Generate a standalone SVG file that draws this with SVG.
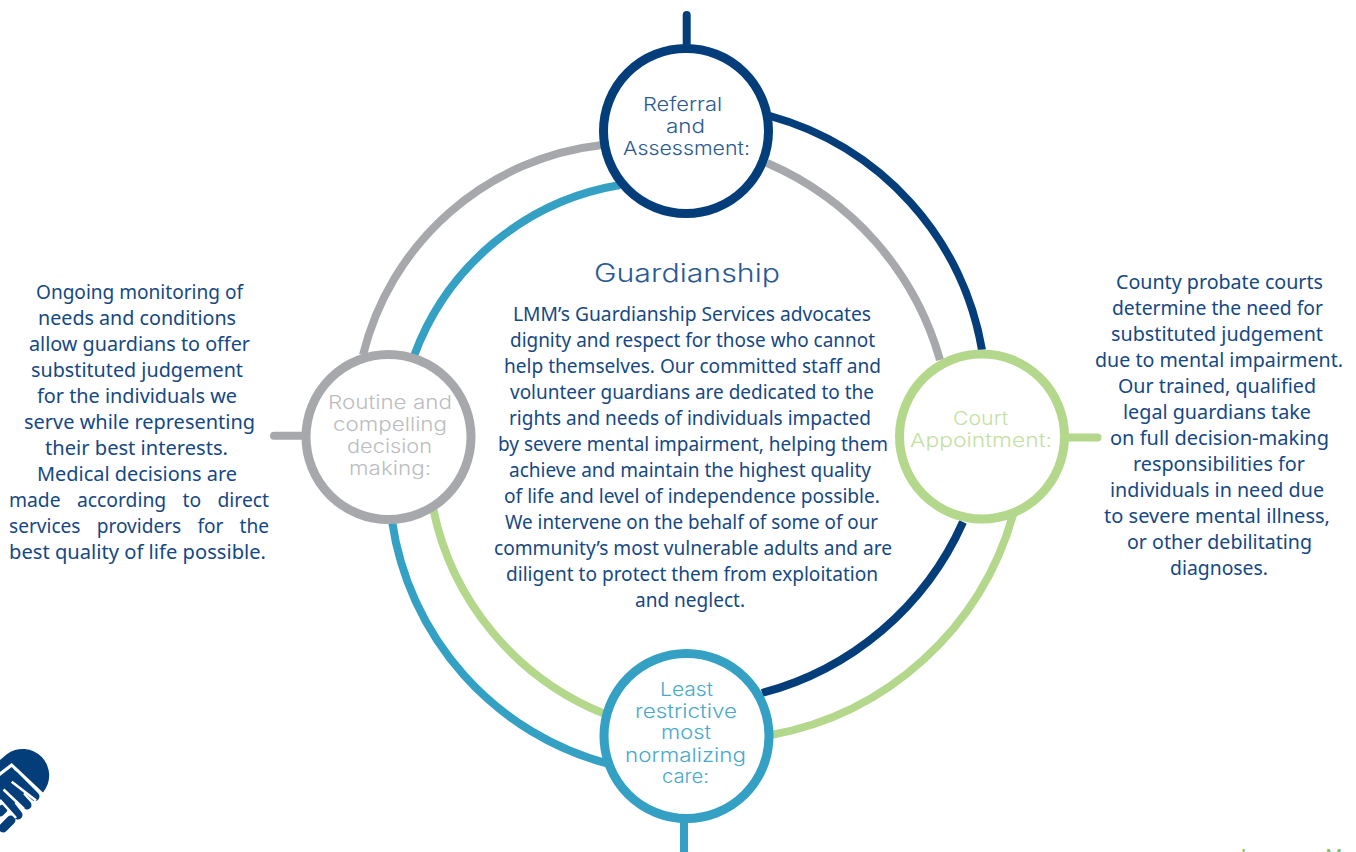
<svg xmlns="http://www.w3.org/2000/svg" width="1356" height="852" viewBox="0 0 1356 852">
<style>
.c{fill:none;stroke-width:8}
.stub{stroke-linecap:round}
.ring{fill:#fff;stroke-width:9}
.navy{stroke:#033e7b}.teal{stroke:#33a0c4}.grey{stroke:#a7a8ac}.green{stroke:#b3d88c}
.b{font-family:"Noto Sans","Open Sans",sans-serif;font-size:20.5px;fill:#154884}
.l{font-family:Inter,"Open Sans",sans-serif;font-size:19px;font-weight:300}
.just{word-spacing:12px}
.logo{fill:#033e7b}
.slit{stroke:#fff;stroke-width:2.6;fill:none}
.fing{stroke:#033e7b;stroke-width:9;stroke-linecap:round;fill:none}
</style>
<rect width="1356" height="852" fill="#fff"/>
<g id="connectors">
<path class="c navy" d="M770 116A294 294 0 0 1 982 350"/>
<path class="c navy" d="M963 522A305 305 0 0 1 762 693"/>
<path class="c grey" d="M767 163A305 305 0 0 1 940 360"/>
<path class="c grey" d="M363 355A278 278 0 0 1 602 145"/>
<path class="c teal" d="M414 356A266 266 0 0 1 620 185"/>
<path class="c teal" d="M392 521A295 295 0 0 0 609 764"/>
<path class="c green" d="M433 508A282 282 0 0 0 605 714"/>
<path class="c green" d="M1013 515A309 309 0 0 1 771 735"/>
<path class="c navy stub" d="M686.7 15V48"/>
<path class="c teal" d="M684 820V852"/>
<path class="c grey stub" d="M274 435.7H305"/>
<path class="c green stub" d="M1065 437.5H1097.5"/>
</g>
<g id="node-referral">
<circle class="ring navy" cx="686" cy="131" r="82.5"/>
<text class="l" fill="#2a5a94" x="643" y="110.7" textLength="79" lengthAdjust="spacingAndGlyphs">Referral</text>
<text class="l" fill="#2a5a94" x="666" y="132.7" textLength="39" lengthAdjust="spacingAndGlyphs">and</text>
<text class="l" fill="#2a5a94" x="623" y="154.7" textLength="127" lengthAdjust="spacingAndGlyphs">Assessment:</text>
</g>
<g id="node-court">
<circle class="ring green" cx="982" cy="436.5" r="82.5"/>
<text class="l" fill="#c5dfa3" x="953" y="425" textLength="55" lengthAdjust="spacingAndGlyphs">Court</text>
<text class="l" fill="#c5dfa3" x="910" y="446.7" textLength="142" lengthAdjust="spacingAndGlyphs">Appointment:</text>
</g>
<g id="node-care">
<circle class="ring teal" cx="686.5" cy="736" r="82.5"/>
<text class="l" fill="#4aa9cc" x="660" y="695.7" textLength="53" lengthAdjust="spacingAndGlyphs">Least</text>
<text class="l" fill="#4aa9cc" x="635" y="717.7" textLength="102" lengthAdjust="spacingAndGlyphs">restrictive</text>
<text class="l" fill="#4aa9cc" x="661" y="739.3" textLength="50" lengthAdjust="spacingAndGlyphs">most</text>
<text class="l" fill="#4aa9cc" x="625" y="761.7" textLength="121" lengthAdjust="spacingAndGlyphs">normalizing</text>
<text class="l" fill="#4aa9cc" x="662" y="783" textLength="47" lengthAdjust="spacingAndGlyphs">care:</text>
</g>
<g id="node-routine">
<circle class="ring grey" cx="388.5" cy="437" r="82.5"/>
<text class="l" fill="#bcbdc0" x="328" y="408.7" textLength="124" lengthAdjust="spacingAndGlyphs">Routine and</text>
<text class="l" fill="#bcbdc0" x="333" y="430.7" textLength="114" lengthAdjust="spacingAndGlyphs">compelling</text>
<text class="l" fill="#bcbdc0" x="347" y="452.7" textLength="85" lengthAdjust="spacingAndGlyphs">decision</text>
<text class="l" fill="#bcbdc0" x="349" y="474.7" textLength="82" lengthAdjust="spacingAndGlyphs">making:</text>
</g>
<g id="center-text">
<text x="594" y="282" textLength="186" lengthAdjust="spacingAndGlyphs" fill="#2a5a94" style="font-family:Inter,'Open Sans',sans-serif;font-size:25px;font-weight:300">Guardianship</text>
<text class="b" x="513" y="321" textLength="358" lengthAdjust="spacingAndGlyphs">LMM’s Guardianship Services advocates</text>
<text class="b" x="510" y="347" textLength="365" lengthAdjust="spacingAndGlyphs">dignity and respect for those who cannot</text>
<text class="b" x="504" y="373" textLength="377" lengthAdjust="spacingAndGlyphs">help themselves. Our committed staff and</text>
<text class="b" x="510" y="399" textLength="364" lengthAdjust="spacingAndGlyphs">volunteer guardians are dedicated to the</text>
<text class="b" x="509" y="425" textLength="362" lengthAdjust="spacingAndGlyphs">rights and needs of individuals impacted</text>
<text class="b" x="498" y="451" textLength="390" lengthAdjust="spacingAndGlyphs">by severe mental impairment, helping them</text>
<text class="b" x="509" y="477" textLength="362" lengthAdjust="spacingAndGlyphs">achieve and maintain the highest quality</text>
<text class="b" x="504" y="503" textLength="376" lengthAdjust="spacingAndGlyphs">of life and level of independence possible.</text>
<text class="b" x="505" y="529" textLength="373" lengthAdjust="spacingAndGlyphs">We intervene on the behalf of some of our</text>
<text class="b" x="494" y="555" textLength="398" lengthAdjust="spacingAndGlyphs">community’s most vulnerable adults and are</text>
<text class="b" x="506" y="581" textLength="372" lengthAdjust="spacingAndGlyphs">diligent to protect them from exploitation</text>
<text class="b" x="635" y="607" textLength="110" lengthAdjust="spacingAndGlyphs">and neglect.</text>
</g>
<g id="left-text">
<text class="b" x="36" y="299" textLength="207" lengthAdjust="spacingAndGlyphs">Ongoing monitoring of</text>
<text class="b" x="38" y="325" textLength="198" lengthAdjust="spacingAndGlyphs">needs and conditions</text>
<text class="b" x="29" y="351" textLength="221" lengthAdjust="spacingAndGlyphs">allow guardians to offer</text>
<text class="b" x="31" y="377" textLength="212" lengthAdjust="spacingAndGlyphs">substituted judgement</text>
<text class="b" x="37" y="403" textLength="200" lengthAdjust="spacingAndGlyphs">for the individuals we</text>
<text class="b" x="24" y="429" textLength="231" lengthAdjust="spacingAndGlyphs">serve while representing</text>
<text class="b" x="45" y="455" textLength="183" lengthAdjust="spacingAndGlyphs">their best interests.</text>
<text class="b" x="37" y="481" textLength="200" lengthAdjust="spacingAndGlyphs">Medical decisions are</text>
<text class="b just" x="9" y="507" textLength="260" lengthAdjust="spacingAndGlyphs">made according to direct</text>
<text class="b just" x="9" y="533" textLength="260" lengthAdjust="spacingAndGlyphs">services providers for the</text>
<text class="b" x="9" y="559" textLength="257" lengthAdjust="spacingAndGlyphs">best quality of life possible.</text>
</g>
<g id="right-text">
<text class="b" x="1116" y="289" textLength="207" lengthAdjust="spacingAndGlyphs">County probate courts</text>
<text class="b" x="1112" y="315" textLength="211" lengthAdjust="spacingAndGlyphs">determine the need for</text>
<text class="b" x="1111" y="341" textLength="212" lengthAdjust="spacingAndGlyphs">substituted judgement</text>
<text class="b" x="1095" y="367" textLength="248" lengthAdjust="spacingAndGlyphs">due to mental impairment.</text>
<text class="b" x="1118" y="393" textLength="198" lengthAdjust="spacingAndGlyphs">Our trained, qualified</text>
<text class="b" x="1123" y="419" textLength="188" lengthAdjust="spacingAndGlyphs">legal guardians take</text>
<text class="b" x="1110" y="445" textLength="219" lengthAdjust="spacingAndGlyphs">on full decision-making</text>
<text class="b" x="1133" y="471" textLength="172" lengthAdjust="spacingAndGlyphs">responsibilities for</text>
<text class="b" x="1110" y="497" textLength="214" lengthAdjust="spacingAndGlyphs">individuals in need due</text>
<text class="b" x="1104" y="523" textLength="226" lengthAdjust="spacingAndGlyphs">to severe mental illness,</text>
<text class="b" x="1127" y="549" textLength="185" lengthAdjust="spacingAndGlyphs">or other debilitating</text>
<text class="b" x="1170" y="575" textLength="98" lengthAdjust="spacingAndGlyphs">diagnoses.</text>
</g>
<g id="logo">
<path class="logo" d="M0 772L11.7 763L43 792.5A26.5 26.5 0 0 0 6.5 754.5L0 760Z"/>
<path class="fing" d="M14 775.5L35 796.5M5 781L27 805M0 792L18 815M11 820L3 828M0 812L3 809"/>
<path class="logo" d="M0 776L11.7 767L30 787L14 804L0 790Z"/>
<path class="slit" d="M11.7 781.7L36 800.5M3.5 789.5L24 809M0 800L16 818"/>
</g>
<g id="cropped-wordmark" style="font-family:'Liberation Sans',sans-serif;font-size:20px;fill:#8cbb5c">
<text x="1241" y="863">L</text>
<text x="1325.5" y="863">M</text>
</g>
</svg>
